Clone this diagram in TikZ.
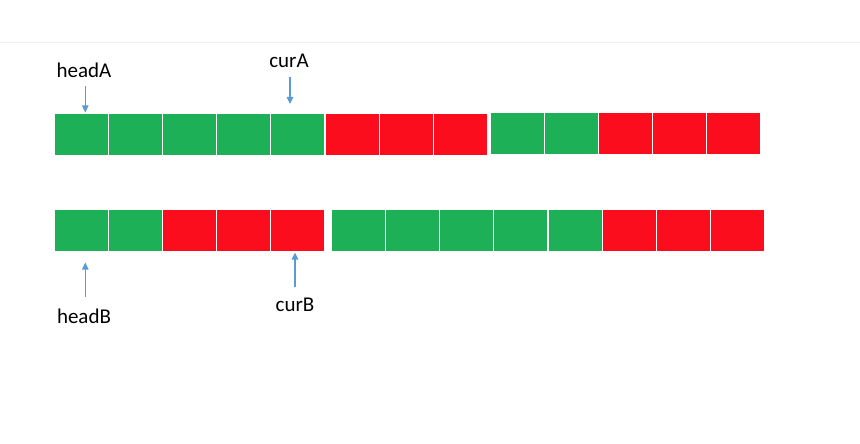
\documentclass[tikz,border=0pt]{standalone}
\usepackage{fontspec}
\setmainfont{Carlito}
\usetikzlibrary{arrows.meta}
\definecolor{cgreen}{RGB}{29,176,87}
\definecolor{cred}{RGB}{252,13,30}
\definecolor{carrow}{RGB}{91,155,213}
\definecolor{cline}{RGB}{240,240,240}
\tikzset{
  cell/.style={minimum width=54pt, minimum height=42pt, inner sep=0pt, draw=white, line width=1pt, anchor=west},
  gcell/.style={cell, fill=cgreen},
  rcell/.style={cell, fill=cred},
  lbl/.style={font=\fontsize{21}{25}\selectfont, inner sep=0pt},
  ptr/.style={draw=carrow, line width=1.1pt, -{Triangle[length=7pt,width=6.5pt]}}
}
\begin{document}
\begin{tikzpicture}[x=1pt,y=-1pt]
\useasboundingbox (0,0) rectangle (860,444);
\draw[cline, line width=1pt] (0,42.5) -- (860,42.5);
% Row A, segment 1
\foreach \i/\s in {0/gcell,1/gcell,2/gcell,3/gcell,4/gcell,5/rcell,6/rcell,7/rcell}
  \node[\s] (a\i) at ({54+54.1*\i},134) {};
% Row A, segment 2
\foreach \i/\s in {0/gcell,1/gcell,2/rcell,3/rcell,4/rcell}
  \node[\s] (c\i) at ({490+54*\i},133.5) {};
% Row B, segment 1
\foreach \i/\s in {0/gcell,1/gcell,2/rcell,3/rcell,4/rcell}
  \node[\s] (b\i) at ({54+54*\i},230.5) {};
% Row B, segment 2
\foreach \i/\s in {0/gcell,1/gcell,2/gcell,3/gcell,4/gcell,5/rcell,6/rcell,7/rcell}
  \node[\s] (d\i) at ({331+54.15*\i},230.5) {};
% labels
\node[lbl] (headA) at (84,70) {headA};
\node[lbl] (curA) at (289,61) {curA};
\node[lbl] (headB) at (84,316) {headB};
\node[lbl] (curB) at (295,305) {curB};
% pointers
\coordinate (hAs) at (85.3,86.5);
\coordinate (hAe) at (85.3,112.5);
\coordinate (cAs) at (290,77.5);
\coordinate (cAe) at (290,104);
\coordinate (hBs) at (85.3,297);
\coordinate (hBe) at (85.3,262.5);
\coordinate (cBs) at (295,287);
\coordinate (cBe) at (295,252.5);
\draw[ptr] (hAs) -- (hAe);
\draw[ptr] (cAs) -- (cAe);
\draw[ptr] (hBs) -- (hBe);
\draw[ptr] (cBs) -- (cBe);
\end{tikzpicture}
\end{document}
